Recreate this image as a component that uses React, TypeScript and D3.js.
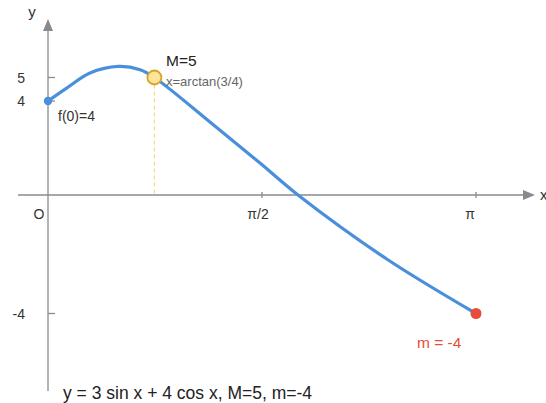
import React from "react";
import * as d3 from "d3";

// Curve points: x in radians, y = function value
const curveX = [0, 0.137, 0.308, 0.516, 0.676, 0.781, 1.238, 1.556, 1.835, 2.486, Math.PI];
const curveY = [4, 4.55, 5.19, 5.47, 5.33, 5.0, 2.87, 1.36, 0, -2.16, -4];

const xTickValues = [Math.PI / 2, Math.PI];
const xTickLabels = ["π/2", "π"];
const yTickValues = [5, 4, -4];
const yTickLabels = ["5", "4", "-4"];

const startPoint = { x: 0, y: 4, label: "f(0)=4" };
const maxPoint = { x: 0.781, y: 5, label: "M=5", sub: "x=arctan(3/4)" };
const minPoint = { x: Math.PI, y: -4, label: "m = -4" };
const caption = "y = 3 sin x + 4 cos x, M=5, m=-4";

const W = 546;
const H = 403;
const FONT = "'Liberation Sans', Arial, Helvetica, sans-serif";

export default function App() {
  const x = d3.scaleLinear().domain([0, Math.PI]).range([48, 476]);
  const y = d3.scaleLinear().domain([-4, 0, 5]).range([313.5, 195, 77.5]);

  const pts: [number, number][] = curveX.map((v, i) => [v, curveY[i]]);
  const line = d3
    .line<[number, number]>()
    .x((d) => x(d[0]))
    .y((d) => y(d[1]))
    .curve(d3.curveCatmullRom.alpha(0.5));

  const x0 = x(0);
  const y0 = y(0);
  const axisColor = "#8a8a8a";
  const textColor = "#333";

  return (
    <svg
      width={W}
      height={H}
      style={{ position: "absolute", left: 0, top: 0, background: "#fff" }}
      fontFamily={FONT}
    >
      {/* x axis */}
      <line x1={18} x2={524} y1={y0} y2={y0} stroke={axisColor} strokeWidth={1.3} />
      <path d={`M${535},${y0} L${523},${y0 - 5} L${523},${y0 + 5} Z`} fill={axisColor} />
      <text x={540} y={y0 + 5} fontSize={15} fill={textColor}>x</text>
      {/* y axis */}
      <line x1={x0} x2={x0} y1={391} y2={30} stroke={axisColor} strokeWidth={1.3} />
      <path d={`M${x0},${19} L${x0 - 5},${31} L${x0 + 5},${31} Z`} fill={axisColor} />
      <text x={32} y={17} fontSize={15} fill={textColor} textAnchor="middle">y</text>

      {/* x ticks */}
      {xTickValues.map((v, i) => (
        <g key={"xt" + i}>
          <line x1={x(v)} x2={x(v)} y1={y0 - 3} y2={y0 + 3} stroke={axisColor} strokeWidth={1.3} />
          <text x={x(v) - (i === 0 ? 4 : 6)} y={219} fontSize={14} fill={textColor} textAnchor="middle">
            {xTickLabels[i]}
          </text>
        </g>
      ))}
      <text x={39} y={219} fontSize={14} fill={textColor} textAnchor="middle">O</text>

      {/* y ticks */}
      {yTickValues.map((v, i) => (
        <g key={"yt" + i}>
          <line x1={x0} x2={x0 + 7} y1={y(v)} y2={y(v)} stroke={axisColor} strokeWidth={1.3} />
          <text x={25} y={y(v) + 5} fontSize={14} fill={textColor} textAnchor="end">
            {yTickLabels[i]}
          </text>
        </g>
      ))}

      {/* dashed guide at maximum */}
      <line
        x1={x(maxPoint.x)}
        x2={x(maxPoint.x)}
        y1={y(maxPoint.y)}
        y2={y0}
        stroke="#fbd978"
        strokeWidth={1.2}
        strokeDasharray="4,3"
      />

      {/* curve */}
      <path d={line(pts) || ""} fill="none" stroke="#4a8fdc" strokeWidth={3.2} strokeLinecap="round" />

      {/* start point */}
      <circle cx={x(startPoint.x)} cy={y(startPoint.y)} r={4.2} fill="#4a8fdc" />
      <text x={58} y={121} fontSize={14} fill={textColor}>{startPoint.label}</text>

      {/* max point */}
      <circle cx={x(maxPoint.x)} cy={y(maxPoint.y)} r={7} fill="#fde49a" stroke="#d4a52a" strokeWidth={1.8} />
      <text x={166} y={66} fontSize={15.5} fill="#222">{maxPoint.label}</text>
      <text x={166} y={86} fontSize={13} fill="#666">{maxPoint.sub}</text>

      {/* min point */}
      <circle cx={x(minPoint.x)} cy={y(minPoint.y)} r={5.5} fill="#e84a3b" />
      <text x={417} y={348} fontSize={15.5} fill="#e84a3b">{minPoint.label}</text>

      {/* caption */}
      <text x={63} y={399} fontSize={17.5} fill="#222">{caption}</text>
    </svg>
  );
}
